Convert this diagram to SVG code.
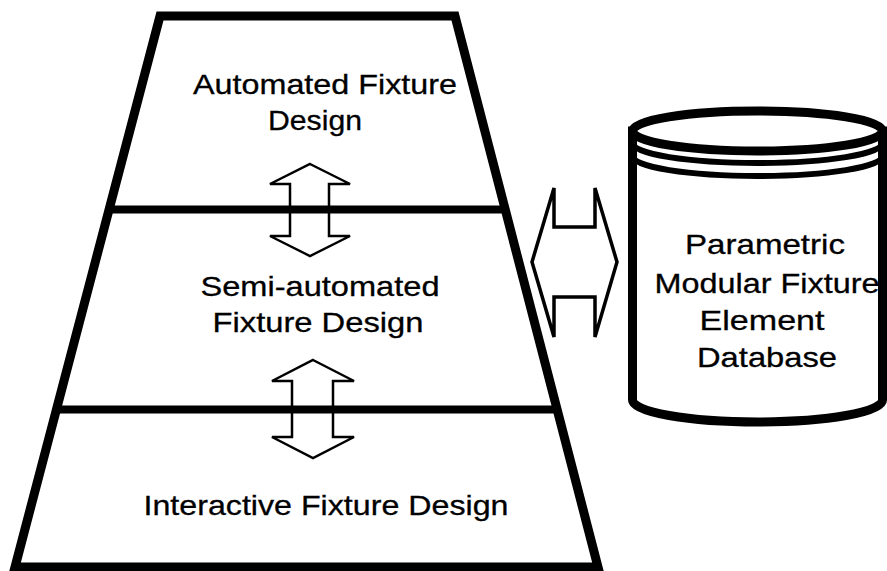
<svg xmlns="http://www.w3.org/2000/svg" width="887" height="571" viewBox="0 0 887 571">
  <style>
    .frame { fill: none; stroke: #000; stroke-width: 9; stroke-linejoin: miter; }
    .tier { fill: none; stroke: #000; stroke-width: 8; }
    .arrow { fill: none; stroke: #000; stroke-width: 2.5; stroke-linejoin: miter; }
    .arrow-h { fill: none; stroke: #000; stroke-width: 3.5; stroke-linejoin: miter; }
    .db { fill: #fff; stroke: #000; stroke-width: 9; }
    .ring { fill: none; stroke: #000; stroke-width: 6; }
    .label { font-family: "Liberation Sans", Arial, sans-serif; font-size: 28px; fill: #000; stroke: #000; stroke-width: 0.3; text-anchor: middle; }
  </style>
  <rect width="887" height="571" fill="#fff"/>

  <!-- pyramid of design levels -->
  <g id="level-automated">
    <text class="label" x="325" y="94" textLength="264" lengthAdjust="spacingAndGlyphs">Automated Fixture</text>
    <text class="label" x="315" y="130" textLength="94" lengthAdjust="spacingAndGlyphs">Design</text>
  </g>
  <g id="level-semi">
    <text class="label" x="320" y="296" textLength="239" lengthAdjust="spacingAndGlyphs">Semi-automated</text>
    <text class="label" x="318" y="332" textLength="211" lengthAdjust="spacingAndGlyphs">Fixture Design</text>
  </g>
  <g id="level-interactive">
    <text class="label" x="326" y="515" textLength="365" lengthAdjust="spacingAndGlyphs">Interactive Fixture Design</text>
  </g>

  <g id="pyramid-frame">
    <polygon class="frame" points="160,16 455,16 598,567 15,567"/>
    <line class="tier" x1="109" y1="209.5" x2="505" y2="209.5"/>
    <line class="tier" x1="56" y1="409.5" x2="557" y2="409.5"/>
  </g>

  <!-- database cylinder -->
  <g id="database">
    <path class="db" d="M632.5,131 L632.5,400 A125,22 0 0 0 882.5,400 L882.5,131 Z"/>
    <ellipse class="db" cx="757.5" cy="131" rx="125" ry="20" stroke-width="7"/>
    <path class="ring" d="M632.5,143 A125,20 0 0 0 882.5,143"/>
    <path class="ring" d="M632.5,156 A125,20 0 0 0 882.5,156"/>
    <text class="label" x="765" y="254" textLength="160" lengthAdjust="spacingAndGlyphs">Parametric</text>
    <text class="label" x="767" y="293" textLength="225" lengthAdjust="spacingAndGlyphs">Modular Fixture</text>
    <text class="label" x="762" y="330" textLength="125" lengthAdjust="spacingAndGlyphs">Element</text>
    <text class="label" x="767" y="367" textLength="140" lengthAdjust="spacingAndGlyphs">Database</text>
  </g>

  <!-- two-way block arrows between levels and to the database -->
  <g id="connectors">
    <polygon class="arrow" points="310,164 350,184 329,184 329,236 350,236 310,256 270,236 290,236 290,184 270,184"/>
    <polygon class="arrow" points="313,360 354,381 333,381 333,437 354,437 313,458 272,437 292,437 292,381 272,381"/>
    <polygon class="arrow-h" points="532,262 554,188 554,227 595,227 595,188 617,262 595,337 595,297 554,297 554,337"/>
  </g>
</svg>
